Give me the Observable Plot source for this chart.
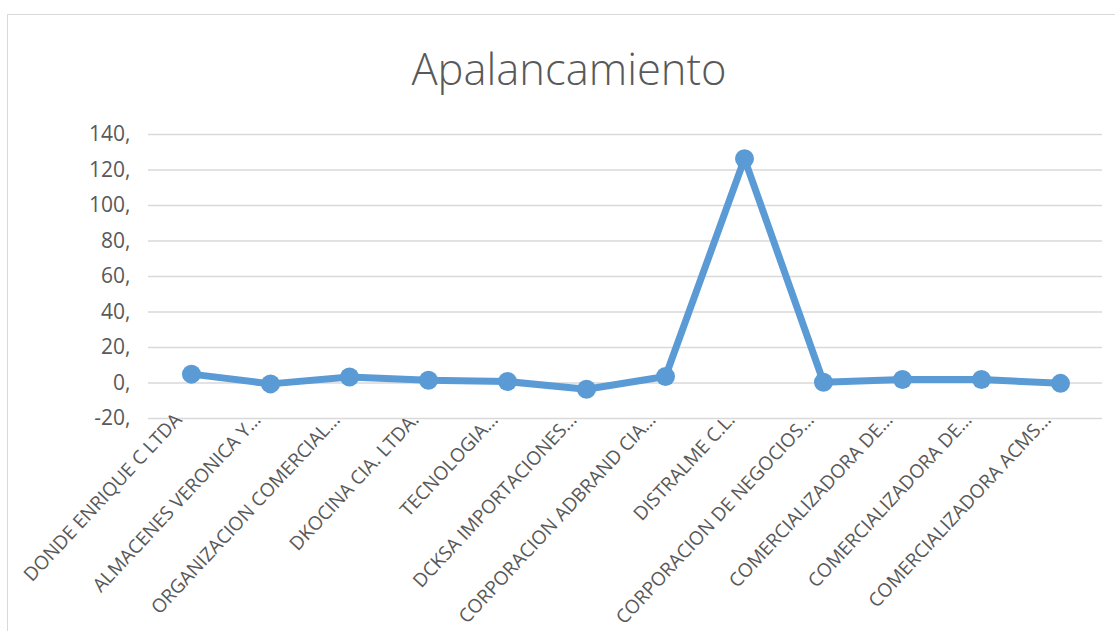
<!DOCTYPE html>
<html>
<head>
<meta charset="utf-8">
<script src="https://cdn.jsdelivr.net/npm/d3@7"></script>
<script src="https://cdn.jsdelivr.net/npm/@observablehq/plot@0.6"></script>
<style>
  html, body { margin: 0; padding: 0; background: #fff; width: 1115px; height: 631px; overflow: hidden; }
  #frame { position: absolute; left: 7px; top: 14px; width: 1200px; height: 700px; border: 1.5px solid #d9d9d9; box-sizing: border-box; }
  #title { position: absolute; left: 0; top: 47px; width: 1138px; text-align: center; font-family: 'Open Sans', sans-serif; font-weight: 300; font-size: 43.5px; color: #595959; line-height: 1; }
  #chart { position: absolute; left: 0; top: 100px; }
</style>
</head>
<body>
<div id="frame"></div>
<div id="title">Apalancamiento</div>
<div id="chart"></div>
<script>
const companies = [
  "DONDE ENRIQUE C LTDA",
  "ALMACENES VERONICA Y…",
  "ORGANIZACION COMERCIAL…",
  "DKOCINA CIA. LTDA.",
  "TECNOLOGIA…",
  "DCKSA IMPORTACIONES…",
  "CORPORACION ADBRAND CIA…",
  "DISTRALME C.L.",
  "CORPORACION DE NEGOCIOS…",
  "COMERCIALIZADORA DE…",
  "COMERCIALIZADORA DE…",
  "COMERCIALIZADORA ACMS…"
];
const apalancamiento = [5, -0.5, 3.4, 1.5, 0.8, -3.5, 3.7, 126.3, 0.4, 2, 2, -0.2];
const yTicks = [-20, 0, 20, 40, 60, 80, 100, 120, 140];

const data = companies.map((c, i) => ({i, company: c, value: apalancamiento[i]}));
const fmt = d => String(d) + ",";

const chart = Plot.plot({
  width: 1115,
  height: 531,
  marginTop: 34,
  marginBottom: 213,
  marginLeft: 148,
  marginRight: 13,
  style: {fontFamily: "'Open Sans', sans-serif", color: "#595959", background: "transparent"},
  x: {type: "point", domain: d3.range(companies.length), axis: null},
  y: {domain: [-20, 140], axis: null},
  marks: [
    Plot.gridY(yTicks, {stroke: "#d9d9d9", strokeOpacity: 1, strokeWidth: 1.5}),
    Plot.axisY(yTicks, {tickSize: 0, tickPadding: 18, fontSize: 21, fill: "#595959", tickFormat: fmt, label: null}),
    Plot.line(data, {x: "i", y: "value", stroke: "#5b9bd5", strokeWidth: 7, strokeLinejoin: "round"}),
    Plot.dot(data, {x: "i", y: "value", r: 9.5, fill: "#5b9bd5", stroke: "none"}),
    Plot.text(data, {x: "i", y: () => -20, text: "company", rotate: -47, textAnchor: "end", lineAnchor: "middle", dx: -13, dy: -2, fontSize: 19, fill: "#595959"})
  ]
});
document.getElementById("chart").appendChild(chart);
</script>
</body>
</html>
